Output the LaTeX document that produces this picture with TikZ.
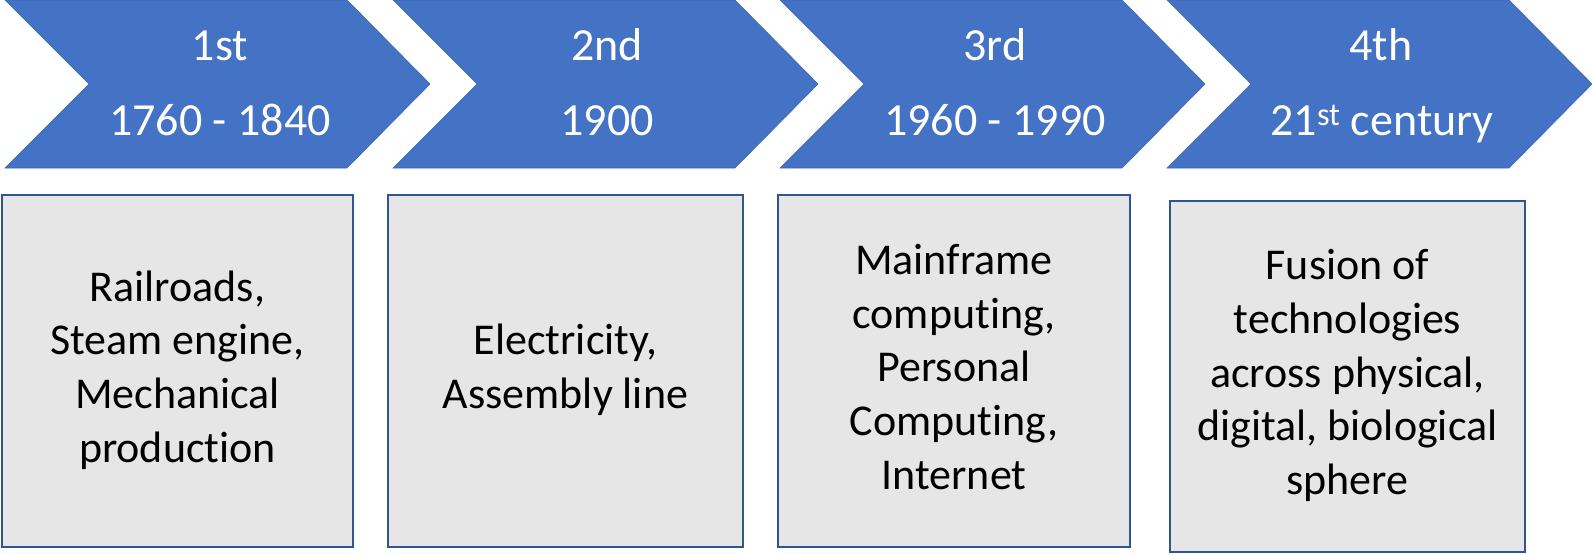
\documentclass[tikz,border=0pt]{standalone}
\usepackage{fontspec}
\setmainfont{Carlito}[Ligatures=CommonOff]
\definecolor{chevblue}{HTML}{4472C4}
\definecolor{boxfill}{HTML}{E7E6E6}
\definecolor{boxline}{HTML}{2F5597}
\tikzset{
  chev/.style={fill=chevblue, draw=chevblue!90!black, line width=0.6pt},
  chevtxt/.style={anchor=base, text=white, inner sep=0pt, font=\fontsize{46}{55}\selectfont},
  infobox/.style={draw=boxline, fill=boxfill, line width=2.2pt, align=center,
    inner sep=0pt, font=\fontsize{44}{53.7}\selectfont, text=black}
}
\begin{document}
\begin{tikzpicture}[x=1pt,y=-1pt]
\useasboundingbox (0,0) rectangle (1592,554);
% chevrons
\foreach \L in {5,393,780,1167}{
  \fill[chev] (\L,0) -- ({\L+342},0) -- ({\L+425},84) -- ({\L+342},168) -- (\L,168) -- ({\L+84},84) -- cycle;
}
% chevron labels
\node[chevtxt] (t1a) at (220,60) {1st};
\node[chevtxt] (t1b) at (220,135) {1760 - 1840};
\node[chevtxt] (t2a) at (607,60) {2nd};
\node[chevtxt] (t2b) at (607,135) {1900};
\node[chevtxt] (t3a) at (995,60) {3rd};
\node[chevtxt] (t3b) at (995,135) {1960 - 1990};
\node[chevtxt] (t4a) at (1381,60) {4th};
\node[chevtxt] (t4b) at (1382,135) {21\textsuperscript{st} century};
% boxes
\node[infobox, minimum width=351pt, minimum height=352pt] (b1) at (177.5,371)
  {\strut Railroads,\\ Steam engine,\\ Mechanical\\ production\strut};
\node[infobox, minimum width=355pt, minimum height=352pt] (b2) at (565.5,371)
  {\strut Electricity,\\ Assembly line\strut};
\node[infobox, minimum width=352pt, minimum height=352pt] (b3) at (954,371)
  {\strut Mainframe\\ computing,\\ Personal\\ Computing,\\ Internet\strut};
\node[infobox, minimum width=355pt, minimum height=351pt] (b4) at (1347.5,376.5)
  {\strut Fusion of\\ technologies\\ across physical,\\ digital, biological\\ sphere\strut};
\end{tikzpicture}
\end{document}
